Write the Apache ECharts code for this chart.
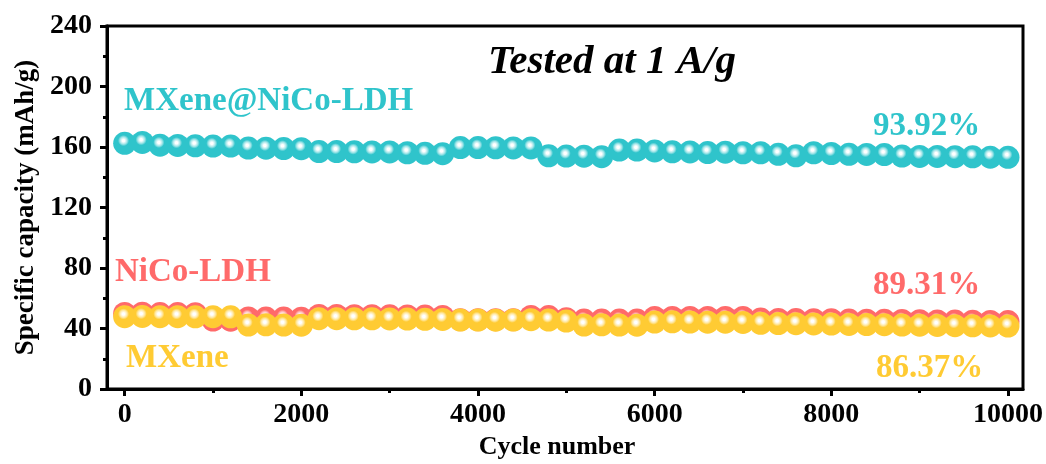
<!DOCTYPE html>
<html>
<head>
<meta charset="utf-8">
<script src="https://cdn.jsdelivr.net/npm/echarts@6/dist/echarts.min.js"></script>
<style>
  html, body { margin: 0; padding: 0; background: #fff; }
  #main { width: 1046px; height: 464px; }
</style>
</head>
<body>
<div id="main"></div>
<script>
// cycle numbers
var cycles = [0,200,400,600,800,1000,1200,1400,1600,1800,2000,2200,2400,2600,2800,3000,3200,3400,3600,3800,
  4000,4200,4400,4600,4800,5000,5200,5400,5600,5800,6000,6200,6400,6600,6800,7000,7200,7400,7600,7800,
  8000,8200,8400,8600,8800,9000,9200,9400,9600,9800,10000];

// specific capacity (mAh/g)
var mxeneNiCo = [162.4,163.0,161.2,161.0,160.8,160.6,160.6,159.3,159.2,159.0,158.9,157.0,157.0,156.8,156.7,156.7,156.2,155.8,155.6,159.6,
  159.6,159.5,159.4,159.4,154.2,154.0,153.9,153.6,158.0,158.0,157.4,156.8,156.7,156.3,156.6,156.2,156.2,155.2,154.2,156.2,
  155.7,155.2,155.1,155.0,154.0,153.8,153.8,153.6,153.5,153.3,153.2];
var nicoLdh = [50.0,50.1,49.9,49.9,49.8,45.6,45.5,47.0,46.9,46.9,46.8,48.6,48.6,48.5,48.5,48.4,48.3,48.2,48.0,45.8,
  45.8,45.8,45.8,48.0,47.9,46.5,45.6,45.6,45.6,45.6,47.3,47.3,47.3,47.3,47.3,47.3,46.2,46.0,45.9,45.8,
  45.8,45.6,45.5,45.4,45.3,45.2,45.0,44.9,44.8,44.7,44.6];
var mxene = [47.8,48.0,47.8,47.8,47.7,47.8,47.7,42.3,42.4,42.3,42.2,46.5,46.5,46.4,46.4,46.3,46.2,46.1,46.0,45.6,
  45.6,45.5,45.6,45.8,45.6,44.9,42.3,42.4,42.3,42.2,44.3,44.4,44.3,44.2,44.2,44.0,43.4,43.3,43.2,43.0,
  42.9,42.7,42.6,42.5,42.3,42.2,42.0,41.9,41.8,41.7,41.6];

var xMajor = [0,2000,4000,6000,8000,10000];
var xMinor = [1000,3000,5000,7000,9000];

var names = ['MXene@NiCo-LDH', 'NiCo-LDH', 'MXene'];
var retention = ['93.92%', '89.31%', '86.37%'];

var CYAN = '#2fc4cb', RED = '#ff6a6a', YELLOW = '#ffcb33';
var SERIF = '"Liberation Serif", "Times New Roman", serif';

function pair(ys) {
  return cycles.map(function (c, i) { return [c, ys[i]]; });
}
function ball(base, tint) {
  return {
    type: 'radial', x: 0.45, y: 0.38, r: 0.55,
    colorStops: [
      { offset: 0, color: '#ffffff' },
      { offset: 0.1, color: '#ffffff' },
      { offset: 0.28, color: tint },
      { offset: 0.44, color: base },
      { offset: 1, color: base }
    ]
  };
}
function scatter(name, ys, base, tint) {
  return {
    name: name, type: 'scatter', data: pair(ys),
    symbol: 'circle', symbolSize: 23,
    itemStyle: { color: ball(base, tint), opacity: 1 },
    emphasis: { disabled: true },
    silent: true
  };
}
function label(text, x, y, color, size, italic) {
  return {
    type: 'text', x: x, y: y, z: 100,
    style: {
      text: text, fill: color, fontFamily: SERIF, fontWeight: 'bold',
      fontStyle: italic ? 'italic' : 'normal',
      fontSize: size, verticalAlign: 'middle', align: 'left'
    }
  };
}
function plain(v) { return String(v); }

var chart = echarts.init(document.getElementById('main'));
chart.setOption({
  animation: false,
  grid: {
    left: 107, right: 23, top: 26, bottom: 75,
    show: true, borderColor: '#000', borderWidth: 3,
    containLabel: false, outerBoundsMode: 'none'
  },
  xAxis: [{
    type: 'value', min: -200, max: 10170, position: 'bottom',
    name: 'Cycle number', nameLocation: 'middle', nameGap: 45,
    nameTextStyle: { fontFamily: SERIF, fontWeight: 'bold', fontSize: 26, color: '#000', padding: [0, 16, 0, 0] },
    axisLine: { show: true, onZero: false, lineStyle: { color: '#000', width: 3 } },
    axisTick: { show: true, inside: false, length: 7, lineStyle: { width: 3, color: '#000' }, customValues: xMajor },
    axisLabel: { customValues: xMajor, formatter: plain, fontFamily: SERIF, fontWeight: 'bold', fontSize: 28, color: '#000', margin: 12 },
    splitLine: { show: false }
  }, {
    type: 'value', min: -200, max: 10170, position: 'bottom', offset: 0,
    axisLine: { show: false, onZero: false },
    axisTick: { show: true, inside: false, length: 4, lineStyle: { width: 3, color: '#000' }, customValues: xMinor },
    axisLabel: { show: false },
    splitLine: { show: false }
  }],
  yAxis: {
    type: 'value', min: 0, max: 240, interval: 40,
    name: 'Specific capacity (mAh/g)', nameLocation: 'middle', nameGap: 66,
    nameTextStyle: { fontFamily: SERIF, fontWeight: 'bold', fontSize: 27, color: '#000' },
    axisLine: { show: true, onZero: false, lineStyle: { color: '#000', width: 3 } },
    axisTick: { show: true, inside: false, length: 7, lineStyle: { width: 3, color: '#000' } },
    minorTick: { show: true, splitNumber: 2, length: 4, lineStyle: { width: 3, color: '#000' } },
    axisLabel: { formatter: plain, fontFamily: SERIF, fontWeight: 'bold', fontSize: 28, color: '#000', margin: 15 },
    splitLine: { show: false }
  },
  series: [
    scatter(names[0], mxeneNiCo, CYAN, '#a5e6e9'),
    scatter(names[1], nicoLdh, RED, '#ffc0c0'),
    scatter(names[2], mxene, YELLOW, '#ffe9a6')
  ],
  graphic: [
    label('Tested at 1 A/g', 488, 62, '#000', 41, true),
    label(names[0], 124, 101, CYAN, 33),
    label(names[1], 115, 272, RED, 33),
    label(names[2], 126, 358, YELLOW, 33),
    label(retention[0], 873, 126, CYAN, 33),
    label(retention[1], 873, 285, RED, 33),
    label(retention[2], 876, 368, YELLOW, 33)
  ]
});
</script>
</body>
</html>
